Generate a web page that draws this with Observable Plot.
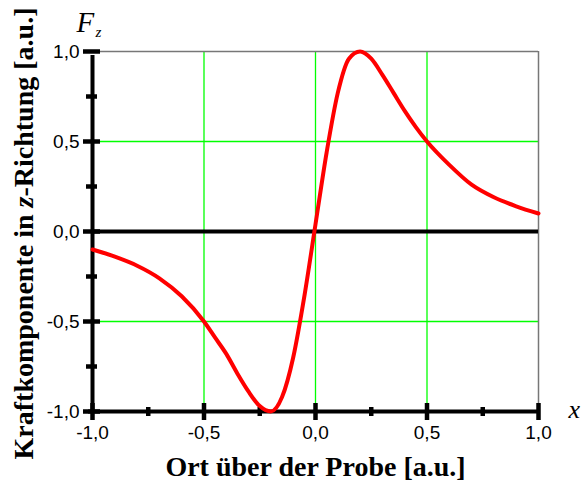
<!DOCTYPE html>
<html>
<head>
<meta charset="utf-8">
<script src="https://cdn.jsdelivr.net/npm/d3@7"></script>
<script src="https://cdn.jsdelivr.net/npm/@observablehq/plot@0.6"></script>
<style>
  html, body { margin: 0; padding: 0; background: #fff; }
</style>
</head>
<body>
<div id="chart"></div>
<script>
// Position over the sample [a.u.]
const xValues = [-1, -0.9, -0.8, -0.7, -0.6, -0.5, -0.45, -0.4, -0.35, -0.3, -0.25, -0.2, -0.15, -0.1, -0.05,
                 0, 0.05, 0.1, 0.15, 0.2, 0.25, 0.3, 0.35, 0.4, 0.45, 0.5, 0.6, 0.7, 0.8, 0.9, 1.0];
// Force component in z direction [a.u.]
const fzValues = [-0.10, -0.14, -0.19, -0.26, -0.36, -0.50, -0.59, -0.68, -0.79, -0.89, -0.97, -1.00, -0.92, -0.70, -0.36,
                  0.04, 0.44, 0.77, 0.96, 1.00, 0.96, 0.87, 0.77, 0.67, 0.58, 0.50, 0.37, 0.26, 0.19, 0.14, 0.10];

const majorTicks = [-1, -0.5, 0, 0.5, 1];
const minorTicks = [-0.75, -0.25, 0.25, 0.75];
const gridLines = [-0.5, 0, 0.5];
const gridLinesY = [-0.5, 0.5];
const fmt = d => d.toFixed(1).replace(".", ",");

const xTitle = "Ort über der Probe [a.u.]";
const yTitle = "Kraftkomponente in z-Richtung [a.u.]";

const data = xValues.map((x, i) => ({x, fz: fzValues[i]}));

const serif = "'Liberation Serif', 'Times New Roman', serif";

const chart = Plot.plot({
  width: 581,
  height: 484,
  marginLeft: 92,
  marginRight: 43,
  marginTop: 51,
  marginBottom: 73,
  style: {fontFamily: "'Liberation Sans', Arial, sans-serif", fontSize: "19px", background: "#fff", overflow: "visible"},
  x: {domain: [-1, 1]},
  y: {domain: [-1, 1]},
  marks: [
    // green grid
    Plot.ruleX(gridLines, {stroke: "#00ff00", strokeWidth: 1.3}),
    Plot.ruleY(gridLinesY, {stroke: "#00ff00", strokeWidth: 1.3}),
    // gray frame top/right
    Plot.ruleY([1], {stroke: "#777", strokeWidth: 1.5}),
    Plot.ruleX([1], {stroke: "#777", strokeWidth: 1.5}),
    // zero line
    Plot.ruleY([0], {x1: -1, x2: 1, stroke: "#000", strokeWidth: 4}),
    // axes lines
    Plot.ruleX([-1], {y1: -1, y2: 1, stroke: "#000", strokeWidth: 4, insetBottom: -4}),
    Plot.ruleY([-1], {x1: -1, x2: 1, stroke: "#000", strokeWidth: 4, insetLeft: -4}),
    // x ticks crossing the axis
    Plot.ruleX(majorTicks, {y1: -1, y2: -1, stroke: "#000", strokeWidth: 4.5, insetTop: -8, insetBottom: -9}),
    Plot.ruleX(minorTicks, {y1: -1, y2: -1, stroke: "#000", strokeWidth: 4.5, insetTop: -4, insetBottom: -5}),
    // y ticks crossing the axis
    Plot.ruleY(majorTicks, {x1: -1, x2: -1, stroke: "#000", strokeWidth: 4.5, insetLeft: -9, insetRight: -8}),
    Plot.ruleY(minorTicks, {x1: -1, x2: -1, stroke: "#000", strokeWidth: 4.5, insetLeft: -6, insetRight: -5}),
    // tick labels
    Plot.axisX(majorTicks, {tickSize: 0, tickPadding: 14, tickFormat: fmt, label: null, fontSize: 19}),
    Plot.axisY(majorTicks, {tickSize: 0, tickPadding: 13, tickFormat: fmt, label: null, fontSize: 19}),
    // curve
    Plot.line(data, {x: "x", y: "fz", stroke: "#ff0000", strokeWidth: 4, curve: "monotone-x"}),
    // titles
    Plot.text([xTitle], {text: d => d, frameAnchor: "bottom", dy: 56, textAnchor: "middle", fontFamily: serif, fontWeight: "bold", fontSize: 28, lineAnchor: "middle"}),
    Plot.text([yTitle], {text: d => d, frameAnchor: "left", dx: -68, dy: 2, rotate: -90, textAnchor: "middle", fontFamily: serif, fontWeight: "bold", fontSize: 28, lineAnchor: "middle"}),
    Plot.text(["F"], {text: d => d, frameAnchor: "top-left", dx: -16, dy: -28.5, textAnchor: "start", lineAnchor: "middle", fontFamily: serif, fontStyle: "italic", fontSize: 29}),
    Plot.text(["z"], {text: d => d, frameAnchor: "top-left", dx: 3, dy: -19, textAnchor: "start", lineAnchor: "middle", fontFamily: serif, fontStyle: "italic", fontSize: 15}),
    Plot.text(["x"], {text: d => d, frameAnchor: "bottom-right", dx: 30, dy: -2, textAnchor: "start", lineAnchor: "middle", fontFamily: serif, fontStyle: "italic", fontSize: 26})
  ]
});

// italicize the "z" in the y title
d3.select(chart).selectAll("text").each(function() {
  const t = d3.select(this);
  if (t.text() === yTitle) {
    t.text(null);
    t.append("tspan").text("Kraftkomponente in ");
    t.append("tspan").attr("font-style", "italic").text("z");
    t.append("tspan").text("-Richtung [a.u.]");
  }
});

document.getElementById("chart").appendChild(chart);
</script>
</body>
</html>
